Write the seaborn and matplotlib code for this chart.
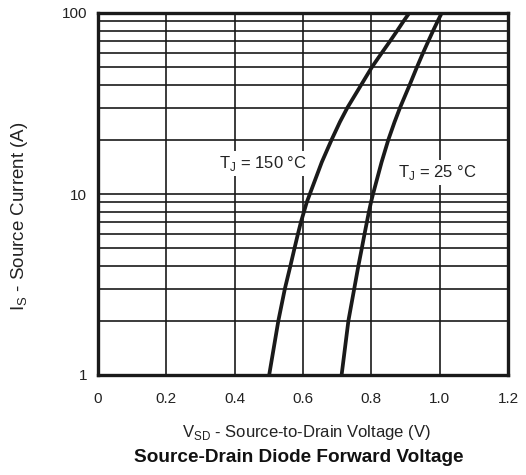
import matplotlib
matplotlib.use("Agg")
import matplotlib.pyplot as plt
from matplotlib.ticker import FixedLocator, NullFormatter, FixedFormatter
import numpy as np
import pandas as pd
import seaborn as sns

# Data (at the grid-line crossings)
i_150 = [1, 2, 3, 4, 5, 6, 7, 8, 9, 10, 15, 20, 25, 30, 40, 50, 60, 70, 80, 90, 100]
v_150 = [0.501, 0.528, 0.547, 0.563, 0.575, 0.585, 0.594, 0.603, 0.611, 0.620,
         0.655, 0.684, 0.708, 0.730, 0.770, 0.801, 0.830, 0.855, 0.876, 0.894, 0.911]
i_25 = [1, 2, 3, 4, 5, 6, 7, 8, 9, 10, 15, 20, 25, 30, 40, 50, 60, 70, 80, 90, 100]
v_25 = [0.713, 0.733, 0.750, 0.762, 0.772, 0.780, 0.787, 0.793, 0.799, 0.805,
        0.830, 0.850, 0.868, 0.884, 0.912, 0.933, 0.951, 0.967, 0.981, 0.994, 1.006]
x_ticks = [0, 0.2, 0.4, 0.6, 0.8, 1.0, 1.2]
x_tick_labels = ["0", "0.2", "0.4", "0.6", "0.8", "1.0", "1.2"]
y_ticks = [1, 10, 100]
y_tick_labels = ["1", "10", "100"]

df = pd.concat([
    pd.DataFrame({"V": v_150, "I": i_150, "T": "150"}),
    pd.DataFrame({"V": v_25, "I": i_25, "T": "25"}),
])

sns.set_theme(style="white")
plt.rcParams["font.family"] = ["Liberation Sans", "DejaVu Sans"]

fig = plt.figure(figsize=(5.26, 4.75), dpi=100)
ax = fig.add_axes([98/526, 1 - 375/475, 410/526, 362/475])

sns.lineplot(data=df, x="V", y="I", hue="T", palette={"150": "#1a1a1a", "25": "#1a1a1a"},
             linewidth=2.7, legend=False, ax=ax, sort=False, estimator=None, zorder=3)

ax.set_yscale("log")
ax.set_xlim(0, 1.2)
ax.set_ylim(1, 100)

minor_y = [m * 10**d for d in range(0, 2) for m in range(2, 10)]
ax.yaxis.set_major_locator(FixedLocator(y_ticks))
ax.yaxis.set_major_formatter(FixedFormatter(y_tick_labels))
ax.yaxis.set_minor_locator(FixedLocator(minor_y))
ax.yaxis.set_minor_formatter(NullFormatter())
ax.set_xticks(x_ticks)
ax.set_xticklabels(x_tick_labels)

ax.grid(True, which="both", axis="y", color="#1a1a1a", linewidth=1.2)
ax.grid(True, which="major", axis="x", color="#1a1a1a", linewidth=1.2)
ax.set_axisbelow(True)
for s in ax.spines.values():
    s.set_color("#1a1a1a")
    s.set_linewidth(2.4)
ax.tick_params(axis="both", which="both", length=0, labelsize=11, colors="#222222")
ax.tick_params(axis="x", pad=12)
ax.tick_params(axis="y", pad=8)

ax.set_xlabel("")
ax.set_ylabel("")
fig.text(306/526, 1 - 433/475, "V$_{\\mathregular{SD}}$ - Source-to-Drain Voltage (V)",
         ha="center", va="center", fontsize=12, color="#222222")
fig.text(20/526, 1 - 216/475, "I$_{\\mathregular{S}}$ - Source Current (A)",
         ha="center", va="center", rotation=90, fontsize=13.5, color="#222222")

bbox = dict(facecolor="white", edgecolor="none", pad=2)
ax.text(0.483, 14.8, "T$_{\\mathregular{J}}$ = 150 °C", ha="center", va="center", fontsize=12,
        color="#222222", bbox=bbox, zorder=2)
ax.text(0.992, 13.2, "T$_{\\mathregular{J}}$ = 25 °C", ha="center", va="center", fontsize=12,
        color="#222222", bbox=bbox, zorder=2)

fig.text(299/526, 1 - 458/475, "Source-Drain Diode Forward Voltage", ha="center", va="center",
         fontsize=13.7, fontweight="bold", color="#111111")

fig.savefig("out.png", dpi=100)
